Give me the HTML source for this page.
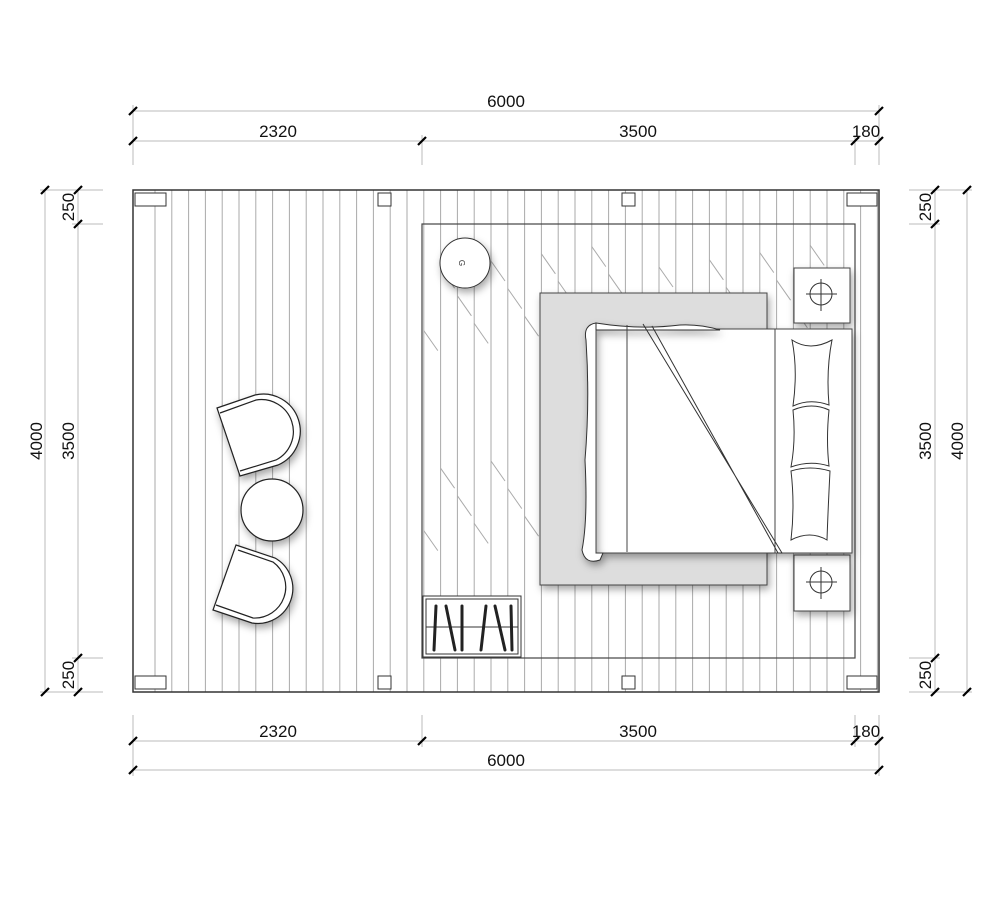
<!DOCTYPE html>
<html><head><meta charset="utf-8"><style>
html,body{margin:0;padding:0;background:#fff;}
svg{display:block;font-family:"Liberation Sans",sans-serif;}
</style></head><body>
<svg id="s" width="1000" height="912" viewBox="0 0 1000 912" xmlns="http://www.w3.org/2000/svg">
<defs>
<filter id="sh" x="-30%" y="-30%" width="160%" height="160%"><feDropShadow dx="2" dy="4" stdDeviation="4" flood-color="#000" flood-opacity="0.35"/></filter>
</defs>
<rect width="1000" height="912" fill="#fff"/>
<g id="planks" stroke="#aaa" stroke-width="1"></g>
<rect x="133" y="190" width="746" height="502" fill="none" stroke="#333" stroke-width="1.5"/>
<rect x="422" y="224" width="433" height="434" fill="none" stroke="#444" stroke-width="1.2"/>
<g fill="#fff" stroke="#333" stroke-width="1">
<rect x="135" y="193" width="31" height="13"/><rect x="378" y="193" width="13" height="13"/><rect x="622" y="193" width="13" height="13"/><rect x="847" y="193" width="30" height="13"/>
<rect x="135" y="676" width="31" height="13"/><rect x="378" y="676" width="13" height="13"/><rect x="622" y="676" width="13" height="13"/><rect x="847" y="676" width="30" height="13"/>
</g>
<rect x="540" y="293" width="227" height="292" fill="#ddd" stroke="#444" stroke-width="1" filter="url(#sh)"/>
<rect x="794" y="268" width="56" height="55" fill="#fff" stroke="#444" filter="url(#sh)"/>
<rect x="794" y="555" width="56" height="56" fill="#fff" stroke="#444" filter="url(#sh)"/>
<g stroke="#333" fill="none" stroke-width="1">
<circle cx="821" cy="294" r="11"/><line x1="806" y1="294" x2="837" y2="294"/><line x1="821" y1="279" x2="821" y2="311"/>
<circle cx="821" cy="582" r="11"/><line x1="806" y1="582" x2="837" y2="582"/><line x1="821" y1="567" x2="821" y2="599"/>
</g>
<rect x="590" y="329" width="262" height="224" fill="#fff" stroke="#444" filter="url(#sh)"/>
<line x1="775" y1="329" x2="775" y2="553" stroke="#444"/>
<path d="M596 323 Q583 325 586 340 Q590 400 585 460 Q588 520 582 550 Q585 565 600 560 L603 553 L596 553 Z M596 323 Q640 330 680 325 Q700 324 720 330 L596 330 Z" fill="#fff" stroke="#333" filter="url(#sh)"/>
<line x1="596" y1="330" x2="596" y2="553" stroke="#444"/>
<line x1="627" y1="325" x2="627" y2="552" stroke="#444"/>
<path d="M643 324 L782 553 L778 553 L652 326" fill="none" stroke="#333"/>
<path d="M792 340 Q810 352 832 340 Q826 370 829 405 Q810 398 793 406 Q798 370 792 340 Z M793 410 Q812 402 829 410 Q826 440 829 466 Q810 460 791 467 Q796 440 793 410 Z M791 471 Q810 465 830 471 Q828 510 827 540 Q810 530 791 540 Q795 505 791 471 Z" fill="#fff" stroke="#333"/>
<circle cx="465" cy="263" r="25" fill="#fff" stroke="#333" filter="url(#sh)"/>
<text x="462" y="266" font-size="8" text-anchor="middle" fill="#333" transform="rotate(90 462 263)">G</text>
<rect x="423" y="596" width="98" height="61" fill="#fff" stroke="#333"/>
<rect x="426" y="599" width="92" height="55" fill="none" stroke="#333"/>
<line x1="426" y1="627" x2="518" y2="627" stroke="#333"/>
<g stroke="#222" stroke-width="3" stroke-linecap="round">
<line x1="436" y1="606" x2="434" y2="650"/><line x1="446" y1="606" x2="455" y2="650"/><line x1="462" y1="606" x2="462" y2="650"/>
<line x1="486" y1="606" x2="481" y2="650"/><line x1="495" y1="606" x2="505" y2="650"/><line x1="511" y1="606" x2="512" y2="650"/>
</g>
<g fill="#fff" stroke="#222" stroke-width="1.2">
<path d="M217 408 L255 395 A37 37 0 0 1 278 465 L240 476 Z" filter="url(#sh)"/>
<path d="M220 413 L256 400 A32 32 0 0 1 276 460 L240 471" fill="none"/>
<circle cx="272" cy="510" r="31" filter="url(#sh)"/>
<path d="M236 545 L275 558 A35 35 0 0 1 252 623 L213 610 Z" filter="url(#sh)"/>
<path d="M238 550 L273 562 A31 31 0 0 1 253 618 L216 605" fill="none"/>
</g>
<g stroke="#bbb" stroke-width="1">
<line x1="133" y1="111" x2="879" y2="111"/><line x1="133" y1="141" x2="879" y2="141"/>
<line x1="133" y1="105" x2="133" y2="165"/><line x1="422" y1="135" x2="422" y2="165"/><line x1="855" y1="135" x2="855" y2="165"/><line x1="879" y1="105" x2="879" y2="165"/>
<line x1="133" y1="741" x2="879" y2="741"/><line x1="133" y1="770" x2="879" y2="770"/>
<line x1="133" y1="715" x2="133" y2="776"/><line x1="422" y1="715" x2="422" y2="747"/><line x1="855" y1="715" x2="855" y2="747"/><line x1="879" y1="715" x2="879" y2="776"/>
<line x1="45" y1="190" x2="45" y2="692"/><line x1="78" y1="190" x2="78" y2="692"/>
<line x1="40" y1="190" x2="103" y2="190"/><line x1="72" y1="224" x2="103" y2="224"/><line x1="72" y1="658" x2="103" y2="658"/><line x1="40" y1="692" x2="103" y2="692"/>
<line x1="935" y1="190" x2="935" y2="692"/><line x1="967" y1="190" x2="967" y2="692"/>
<line x1="909" y1="190" x2="972" y2="190"/><line x1="909" y1="224" x2="940" y2="224"/><line x1="909" y1="658" x2="940" y2="658"/><line x1="909" y1="692" x2="972" y2="692"/>
</g>
<g stroke="#000" stroke-width="2.2" id="ticks"></g>
<g font-size="17" fill="#111" text-anchor="middle">
<text x="506" y="107">6000</text>
<text x="278" y="137">2320</text><text x="638" y="137">3500</text><text x="866" y="137">180</text>
<text x="278" y="737">2320</text><text x="638" y="737">3500</text><text x="866" y="737">180</text>
<text x="506" y="766">6000</text>
<text transform="translate(42 441) rotate(-90)">4000</text>
<text transform="translate(74 441) rotate(-90)">3500</text>
<text transform="translate(74 207) rotate(-90)">250</text>
<text transform="translate(74 675) rotate(-90)">250</text>
<text transform="translate(931 441) rotate(-90)">3500</text>
<text transform="translate(963 441) rotate(-90)">4000</text>
<text transform="translate(931 207) rotate(-90)">250</text>
<text transform="translate(931 675) rotate(-90)">250</text>
</g>
</svg>
<script>
var NS="http://www.w3.org/2000/svg";
function L(g,x1,y1,x2,y2){var l=document.createElementNS(NS,"line");l.setAttribute("x1",x1);l.setAttribute("y1",y1);l.setAttribute("x2",x2);l.setAttribute("y2",y2);g.appendChild(l);}
var p=document.getElementById("planks");
for(var x=155;x<879;x+=16.8){
  if(x>422&&x<855){L(p,x,190,x,224);L(p,x,658,x,692);
    var off=((x*7)%90);
    var y0=224+off+20, y1=y0+200;
    L(p,x,224,x,658);
    if(x+14<855){L(p,x,y0,x+14,y0+20);if(y1<640)L(p,x,y1,x+14,y1+20);}
  } else L(p,x,190,x,692);
}
var t=document.getElementById("ticks");
[[133,111],[879,111],[133,141],[422,141],[855,141],[879,141],[133,741],[422,741],[855,741],[879,741],[133,770],[879,770],[45,190],[45,692],[78,190],[78,224],[78,658],[78,692],[935,190],[935,224],[935,658],[935,692],[967,190],[967,692]].forEach(function(a){L(t,a[0]-4,a[1]+4,a[0]+4,a[1]-4);});
</script>
</body></html>
